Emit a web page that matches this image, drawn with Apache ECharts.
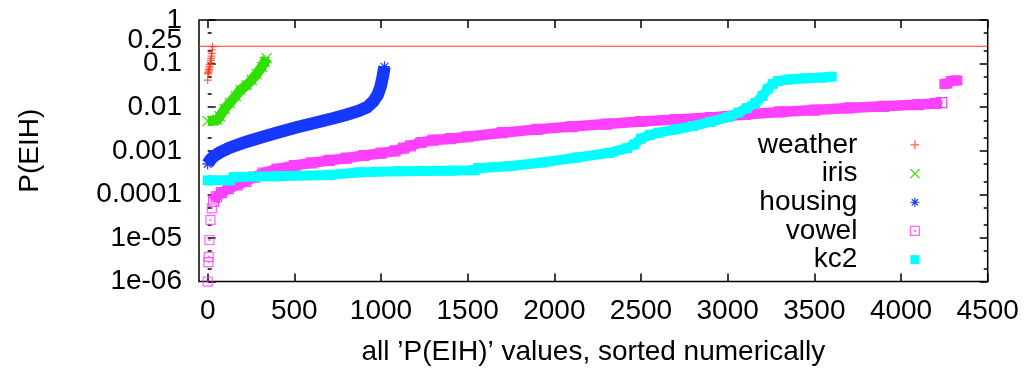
<!DOCTYPE html>
<html>
<head>
<meta charset="utf-8">
<script src="https://cdn.jsdelivr.net/npm/echarts@6/dist/echarts.min.js"></script>
<style>
  html, body { margin: 0; padding: 0; background: #fff; }
  #chart { width: 1025px; height: 368px; }
</style>
</head>
<body>
<div id="chart"></div>
<script>
// Sorted P(E|H) values of each data set, as [rank, value]
const weather = [[0,0.042],[2,0.058],[4,0.062],[6,0.067],[8,0.073],[10,0.080],[12,0.087],[14,0.096],
  [16,0.106],[18,0.118],[20,0.132],[22,0.149],[24,0.172],[26,0.205],[28,0.245]];
const iris = [[0,0.0048],[30,0.0049],[55,0.0051],[70,0.0062],[98,0.0091],[127,0.0125],[162,0.018],
  [190,0.025],[225,0.032],[254,0.042],[283,0.058],[312,0.084],[329,0.109],[340,0.134]];
const housing = [[0,0.0005],[15,0.00062],[35,0.00075],[70,0.00092],[127,0.00118],[220,0.0016],
  [320,0.0021],[415,0.0027],[520,0.0035],[620,0.0044],[720,0.0055],[800,0.0067],[870,0.0082],
  [920,0.0100],[955,0.0135],[980,0.019],[998,0.03],[1010,0.05],[1020,0.085]];
const vowelLow = [[0,1.0e-6],[4,2.8e-6],[6,3.7e-6],[10,9.0e-6],[16,2.6e-5],[24,4.8e-5]];
const vowel = [[35,7.0e-5],[50,8.8e-5],[80,1.1e-4],[120,1.35e-4],[170,1.65e-4],[220,2.0e-4],
  [270,2.5e-4],[320,3.1e-4],[400,3.8e-4],[500,4.6e-4],[600,5.3e-4],[700,6.0e-4],[800,6.8e-4],
  [900,7.8e-4],[1000,8.8e-4],[1080,1.0e-3],[1130,1.15e-3],[1170,1.3e-3],[1230,1.55e-3],
  [1300,1.75e-3],[1400,1.9e-3],[1500,2.1e-3],[1700,2.6e-3],[1900,3.1e-3],[2100,3.6e-3],
  [2300,4.1e-3],[2500,4.7e-3],[2700,5.2e-3],[2900,5.8e-3],[3100,6.8e-3],[3300,7.8e-3],
  [3500,8.6e-3],[3700,9.6e-3],[3900,1.05e-2],[4100,1.15e-2],[4200,1.22e-2],[4235,1.28e-2]];
const vowelTop = [[4250,0.034],[4268,0.035],[4288,0.040],[4308,0.041],[4325,0.041]];
const kc2 = [[0,2.1e-4],[130,2.1e-4],[150,2.5e-4],[400,2.6e-4],[700,2.8e-4],[870,3.2e-4],
  [1100,3.4e-4],[1400,3.5e-4],[1540,3.6e-4],[1560,4.0e-4],[1750,4.5e-4],[1930,5.4e-4],
  [2130,7.0e-4],[2320,9.0e-4],[2420,1.15e-3],[2460,1.4e-3],[2500,1.9e-3],[2550,2.3e-3],
  [2600,2.6e-3],[2700,3.1e-3],[2800,3.7e-3],[2900,4.6e-3],[3000,5.9e-3],[3060,7.5e-3],
  [3110,9.5e-3],[3160,1.25e-2],[3200,1.8e-2],[3230,2.6e-2],[3260,3.4e-2],[3290,4.0e-2],
  [3350,4.3e-2],[3450,4.6e-2],[3550,4.8e-2],[3600,5.0e-2]];
const threshold = 0.25;

// Axis ticks and their labels (the top decade is kept a hair under 1 so the
// log scale's rounded extent does not drop it)
const xTickValues = [0, 500, 1000, 1500, 2000, 2500, 3000, 3500, 4000, 4500];
const yTickValues = [1e-6, 1e-5, 1e-4, 1e-3, 0.01, 0.1, 0.9999999];
const yTickText = ['1e-06', '1e-05', '0.0001', '0.001', '0.01', '0.1', '1'];
const yExtraTick = [threshold];
const yExtraText = ['0.25'];
const yMajorTicks = [1e-6, 1e-5, 1e-4, 1e-3, 0.01, 0.1, 0.9999999];
const yMinorTicks = [2e-6, 5e-6, 2e-5, 5e-5, 2e-4, 5e-4, 2e-3, 5e-3, 0.02, 0.05, 0.2, 0.5];

const FONT = '"Liberation Sans", Arial, Helvetica, sans-serif';
const COLORS = { weather: '#ff3a1f', iris: '#2fe000', housing: '#1638ff', vowel: '#ff40ff', kc2: '#00ffff' };
const PLUS = 'path://M0,5H10M5,0V10';
const CROSS = 'path://M0,0L10,10M10,0L0,10';
const STAR = 'path://M0,5H10M5,0V10M1.5,1.5L8.5,8.5M8.5,1.5L1.5,8.5';
const BOX = 'path://M0,0H10V10H0ZM4.6,4.6H5.4V5.4H4.6Z';

const stroked = c => ({ color: 'rgba(0,0,0,0)', borderColor: c, borderWidth: 1.2 });

const lookup = (values, texts) => v => {
  const i = values.findIndex(t => Math.abs(t - v) / t < 1e-5);
  return i < 0 ? '' : texts[i];
};

const tickStyle = { color: '#000', width: 1.5 };
const labelFont = { fontFamily: FONT, fontSize: 28, color: '#000' };

function yAxisDef(position, ticks, len, label) {
  return {
    type: 'log', logBase: 10, min: 1e-6, max: 1, position: position,
    axisLine: { show: false }, splitLine: { show: false },
    axisTick: ticks ? { show: true, inside: true, length: len, customValues: ticks, lineStyle: tickStyle } : { show: false },
    axisLabel: label ? Object.assign({ show: true, margin: 17, hideOverlap: false, showMinLabel: true, showMaxLabel: true }, labelFont, label)
      : { show: false }
  };
}

function xAxisDef(position, labels) {
  return {
    type: 'value', min: -50, max: 4500, position: position,
    axisLine: { show: false, onZero: false }, splitLine: { show: false },
    axisTick: { show: true, inside: true, length: 8, customValues: xTickValues, lineStyle: tickStyle },
    axisLabel: labels ? Object.assign({
      show: true, customValues: xTickValues, margin: 15.5, formatter: v => String(v)
    }, labelFont) : { show: false }
  };
}

const xMain = xAxisDef('bottom', true);
xMain.name = 'all \u2019P(EIH)\u2019 values, sorted numerically';
xMain.nameLocation = 'middle';
xMain.nameGap = 71;
xMain.nameTextStyle = Object.assign({ verticalAlign: 'middle' }, labelFont);

const yMain = yAxisDef('left', yMajorTicks, 8, {
  customValues: yTickValues, formatter: lookup(yTickValues, yTickText)
});
yMain.name = 'P(EIH)';
yMain.nameLocation = 'middle';
yMain.nameRotate = 90;
yMain.nameGap = 169;
yMain.nameTextStyle = Object.assign({ verticalAlign: 'middle' }, labelFont);

// the 0.25 level gets its own label, set slightly above the line
const yThresholdLabel = yAxisDef('left', null, 0, {
  customValues: yExtraTick,
  formatter: v => '{up|' + lookup(yExtraTick, yExtraText)(v) + '}',
  rich: { up: Object.assign({ padding: [0, 0, 12, 0] }, labelFont) }
});

const bandSeries = (name, data, color, symbol, size, width, z, symbolStyle) => ({
  name: name, type: 'line', data: data, z: z,
  showSymbol: true, symbol: symbol, symbolSize: size,
  itemStyle: symbolStyle,
  lineStyle: { color: color, width: width, cap: 'butt', join: 'miter' },
  emphasis: { disabled: true }, silent: true
});

const option = {
  animation: false,
  backgroundColor: '#fff',
  grid: {
    left: 199, right: 37.3, top: 20, bottom: 86.4,
    outerBoundsMode: 'none', containLabel: false,
    show: true, borderColor: '#000', borderWidth: 1.5, backgroundColor: 'rgba(0,0,0,0)'
  },
  xAxis: [xMain, xAxisDef('top', false)],
  yAxis: [
    yMain,
    yAxisDef('left', yMinorTicks, 4, null),
    yAxisDef('right', yMajorTicks, 8, null),
    yAxisDef('right', yMinorTicks, 4, null),
    yThresholdLabel
  ],
  legend: {
    orient: 'vertical', right: 105, top: 130.5, padding: 0, itemGap: 0,
    align: 'right', itemWidth: 9, itemHeight: 9, selectedMode: false,
    textStyle: Object.assign({ lineHeight: 28.7, padding: [0, 48, 0, 0] }, labelFont),
    data: [
      { name: 'weather', icon: PLUS, itemStyle: stroked(COLORS.weather) },
      { name: 'iris', icon: CROSS, itemStyle: stroked(COLORS.iris) },
      { name: 'housing', icon: STAR, itemStyle: stroked(COLORS.housing) },
      { name: 'vowel', icon: BOX, itemStyle: stroked(COLORS.vowel) },
      { name: 'kc2', icon: 'rect', itemStyle: { color: COLORS.kc2, borderWidth: 0 } }
    ]
  },
  series: [
    {
      name: 'threshold', type: 'line', z: 1, showSymbol: false, silent: true,
      data: [[-50, threshold], [4500, threshold]],
      lineStyle: { color: COLORS.weather, width: 1 }, emphasis: { disabled: true }
    },
    {
      name: 'weather', type: 'scatter', z: 2, data: weather, symbol: PLUS, symbolSize: 8,
      itemStyle: stroked(COLORS.weather), silent: true, emphasis: { disabled: true }
    },
    bandSeries('iris', iris, COLORS.iris, CROSS, 10, 10, 3, stroked(COLORS.iris)),
    bandSeries('housing', housing, COLORS.housing, STAR, 11, 12.5, 4, stroked(COLORS.housing)),
    {
      name: 'vowel', type: 'scatter', z: 5, data: vowelLow, symbol: BOX, symbolSize: 9,
      itemStyle: stroked(COLORS.vowel), silent: true, emphasis: { disabled: true }
    },
    bandSeries('vowel', vowel, COLORS.vowel, BOX, 10, 10.5, 5, stroked(COLORS.vowel)),
    bandSeries('vowel', vowelTop, COLORS.vowel, 'rect', 10, 10, 5, { color: COLORS.vowel }),
    bandSeries('kc2', kc2, COLORS.kc2, 'rect', 10, 10, 6, { color: COLORS.kc2 })
  ]
};

const chart = echarts.init(document.getElementById('chart'), null, { renderer: 'canvas' });
chart.setOption(option);
</script>
</body>
</html>
